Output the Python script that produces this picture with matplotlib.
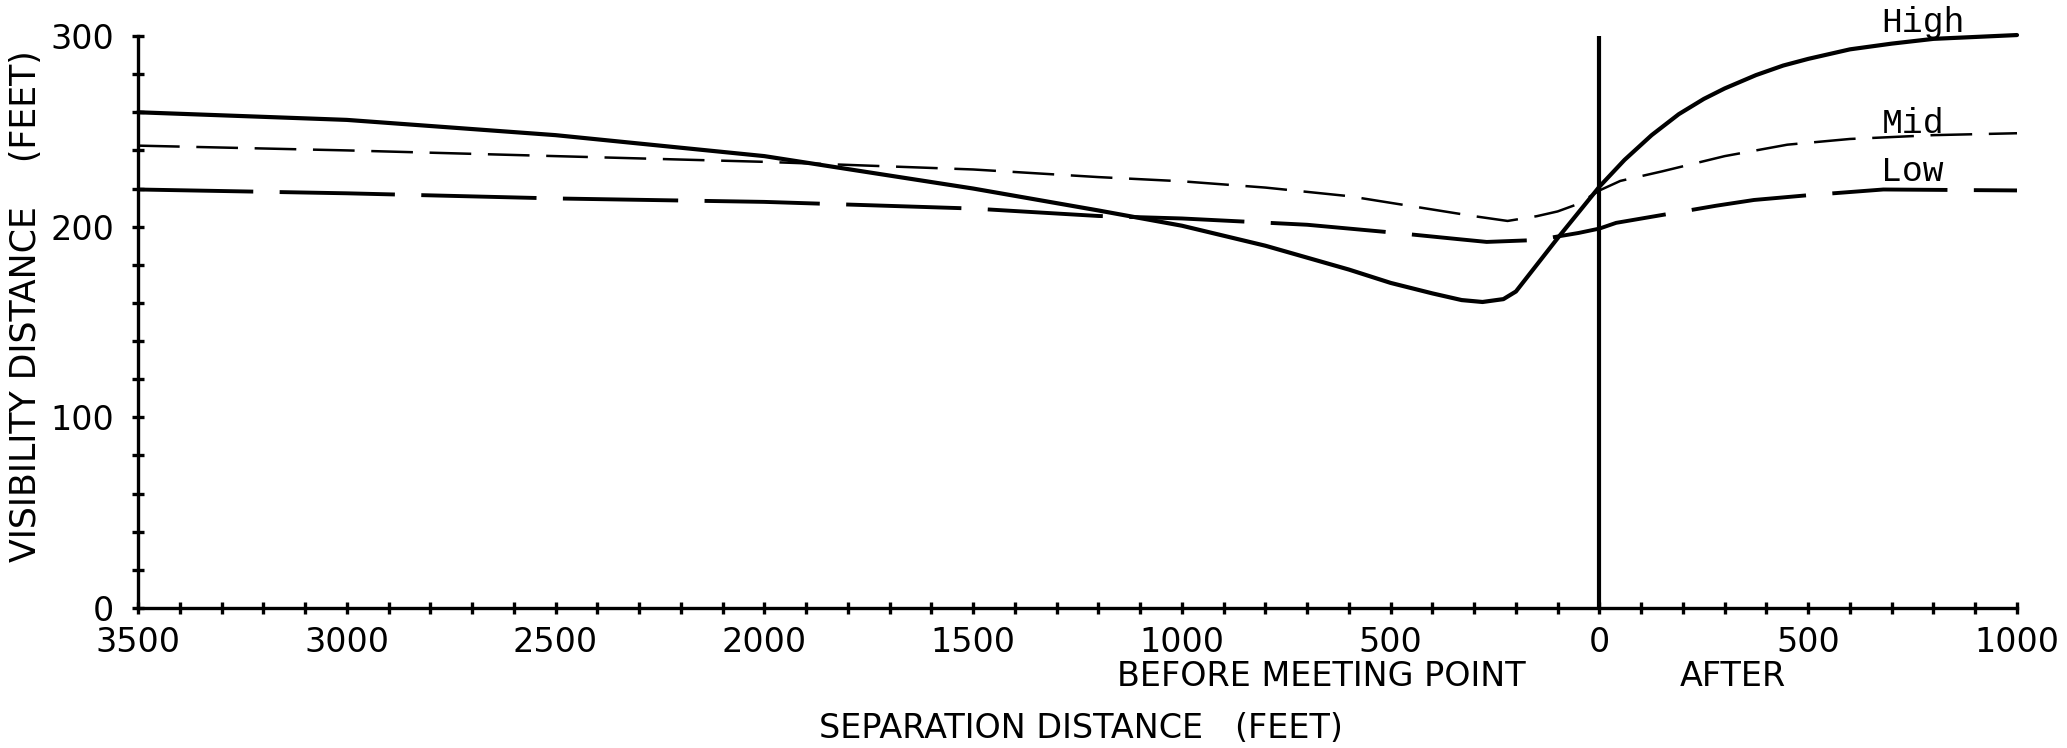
"""Visibility distance vs separation distance, plotter-style line chart."""

import matplotlib

matplotlib.use("Agg")
import matplotlib.pyplot as plt
from matplotlib.ticker import MultipleLocator

# separation distance (ft); negative = before meeting point
high_x = [-3500, -3000, -2500, -2000, -1500, -1200, -1000, -800, -600, -500,
          -400, -330, -280, -230, -200, -100, 0, 60, 125, 190, 250, 300, 375,
          440, 500, 600, 700, 800, 1000]
high_y = [260, 256, 248, 237, 220, 208.5, 200.5, 190, 177.5, 170.5,
          165, 161.5, 160.5, 162, 166, 194, 221, 235, 248, 259, 267, 272.5, 279.5,
          284.5, 288, 293, 296, 298.5, 300.5]

mid_x = [-3500, -3000, -2500, -2000, -1500, -1200, -1000, -800, -600, -500,
         -400, -300, -220, -150, -100, -50, 0, 50, 150, 300, 450, 600, 800, 1000]
mid_y = [242.5, 240, 237, 234, 230, 226, 223.8, 220.5, 216, 212.5,
         209, 205.5, 203, 205.5, 208, 212, 219, 224, 229, 237, 243, 246, 248, 249]

low_x = [-3500, -3000, -2500, -2000, -1500, -1200, -1000, -700, -500, -340,
         -270, -150, -50, 0, 40, 280, 370, 500, 680, 1000]
low_y = [219.5, 217.5, 214.8, 213, 209.5, 205.6, 204.3, 201, 197, 193.5,
         192, 193, 196.7, 199, 202, 211, 214, 216.5, 219.5, 219]

x_ticks = [-3500, -3000, -2500, -2000, -1500, -1000, -500, 0, 500, 1000]
x_tick_labels = ["3500", "3000", "2500", "2000", "1500", "1000", "500", "0", "500", "1000"]
y_ticks = [0, 100, 200, 300]
y_tick_labels = ["0", "100", "200", "300"]

series_names = ["High", "Mid", "Low"]

plt.rcParams["lines.scale_dashes"] = False
plt.rcParams["font.family"] = ["DejaVu Sans"]

W, H = 2067, 748
fig = plt.figure(figsize=(W / 100, H / 100), dpi=100, facecolor="white")
ax = fig.add_axes([138 / W, 1 - 608 / H, (2017 - 138) / W, (608 - 36) / H])

ax.plot(high_x, high_y, color="black", lw=3.0, solid_capstyle="round",
        solid_joinstyle="round", clip_on=False)
ax.plot(mid_x, mid_y, color="black", lw=1.8, linestyle=(0, (30, 12)), clip_on=False)
ax.plot(low_x, low_y, color="black", lw=2.8, linestyle=(0, (83, 19)), clip_on=False)
ax.axvline(0, color="black", lw=3.0)

ax.set_xlim(-3500, 1000)
ax.set_ylim(0, 300)

for side in ("top", "right"):
    ax.spines[side].set_visible(False)
for side in ("left", "bottom"):
    ax.spines[side].set_linewidth(2.4)

ax.set_xticks(x_ticks, x_tick_labels)
ax.set_yticks(y_ticks, y_tick_labels)
ax.xaxis.set_minor_locator(MultipleLocator(100))
ax.yaxis.set_minor_locator(MultipleLocator(20))
ax.tick_params(which="both", direction="inout", length=8, width=2.4)
ax.tick_params(axis="x", which="major", pad=9, labelsize=24)
ax.tick_params(axis="y", which="major", pad=13, labelsize=24)

# curve labels at the right end
for name, yv in zip(series_names, [307, 254, 229]):
    ax.text(675, yv, name, family="Liberation Mono", fontsize=25,
            ha="left", va="center", clip_on=False)

fig.text(1321 / W, 1 - 677 / H, "BEFORE MEETING POINT", fontsize=24, ha="center", va="center")
fig.text(1733 / W, 1 - 677 / H, "AFTER", fontsize=24, ha="center", va="center")
fig.text(1081 / W, 1 - 729 / H, "SEPARATION DISTANCE   (FEET)", fontsize=24,
         ha="center", va="center")
fig.text(26 / W, 1 - 306 / H, "VISIBILITY DISTANCE    (FEET)", fontsize=25,
         rotation=90, ha="center", va="center")

fig.savefig("out.png", dpi=100, facecolor="white")
plt.close(fig)
